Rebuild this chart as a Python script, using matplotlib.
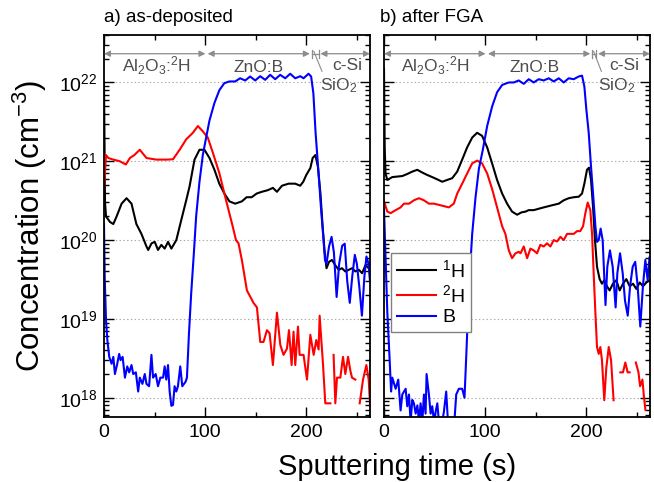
import numpy as np
import matplotlib
matplotlib.use("Agg")
import matplotlib.pyplot as plt
import matplotlib.ticker as mticker
import matplotlib.transforms as mtransforms

plt.rcParams['font.family'] = ['Liberation Sans', 'DejaVu Sans']
plt.rcParams['mathtext.fontset'] = 'custom'
plt.rcParams['mathtext.rm'] = 'Liberation Sans'
plt.rcParams['mathtext.it'] = 'Liberation Sans:italic'
plt.rcParams['mathtext.bf'] = 'Liberation Sans:bold'
plt.rcParams['mathtext.default'] = 'regular'

nan = np.nan

# ---------------- panel a) as-deposited ----------------
ta_H1 = [0, 1, 2, 5.9, 9.2, 12.5, 17.4, 22.3, 27.2, 32, 37, 42, 43.7, 47, 50.2,
         53.4, 56.7, 60, 63.3, 66.6, 71.5, 76.4, 81.3, 84.6, 89.5, 94.4, 99.3, 104.3, 109.2, 114,
         119, 124, 129.7, 136.3, 141, 146, 151, 156, 162, 167, 171, 176, 182.5, 189, 194,
         197, 200, 204, 206.3, 209, 211.5, 214, 216, 218, 220, 222.5, 225.4, 228.7, 232, 235.3,
         238.6, 242, 245.3, 248.6, 252, 255.2, 258.5, 261.8]
ca_H1 = [1.0e22, 3.0e20, 2.0e20, 1.7e20, 1.6e20, 2.0e20, 2.9e20, 3.4e20, 2.9e20, 1.6e20,
         1.2e20, 8.3e19, 7.5e19, 9.1e19, 9.5e19, 7.5e19, 8.7e19, 7.8e19, 9.5e19, 7.8e19,
         1.0e20, 1.8e20, 3.2e20, 4.8e20, 1.05e21, 1.4e21, 1.4e21, 1.1e21, 7.8e20, 5.2e20,
         3.9e20, 3.1e20, 2.9e20, 3.1e20, 3.5e20, 3.5e20, 3.9e20, 4.1e20, 4.3e20, 4.6e20,
         4.1e20, 4.9e20, 5.2e20, 5.2e20, 4.9e20, 5.5e20, 6.7e20, 8.2e20, 1.1e21, 1.2e21,
         8.5e20, 3.9e20, 1.6e20, 7.5e19, 4.4e19, 5.3e19, 5.6e19, 4.8e19, 4.2e19, 4.4e19,
         4.0e19, 4.2e19, 4.4e19, 4.0e19, 4.2e19, 3.8e19, 4.8e19, 4.4e19]

ta_H2 = [0, 2, 4.3, 9.2, 15.7, 21.6, 25.6, 30, 35.4, 42, 51.8, 61.6, 68.2, 74.8, 81.3,
         87.9, 92.8, 97.7, 102.6, 107.5, 114, 120.7, 127.2, 130.5, 133, 136.3, 141.3, 147.8,
         151.2, 154.5, 157.7, 161.1, 163.7, 167, 171, 174.3, 177.5, 180.9, 182.9, 185.5,
         187.4, 189.1, 191.8, 193.4, 197.3, 200.7, 204, 207.3, 209.9, 212.2, 213.2, 216.5,
         218.8, 223.8, 225, 227, 228.7, 230.4, 233.7, 236.3, 238.6, 241.3, 243.6, 245.2,
         248.5, 250, 252.8, 256.1, 259.4, 261.7, 263]
ca_H2 = [4.5e20, 1.2e21, 1.1e21, 1.05e21, 1.0e21, 9.1e20, 1.1e21, 1.2e21, 1.4e21, 1.1e21,
         1.05e21, 1.05e21, 1.06e21, 1.4e21, 1.9e21, 2.3e21, 2.8e21, 2.4e21, 2.0e21, 1.3e21,
         7.1e20, 3.2e20, 1.5e20, 1.0e20, 9.1e19, 5.6e19, 2.3e19, 1.6e19, 1.4e19, 5.1e18,
         5.1e18, 7.2e18, 6.6e18, 2.6e18, 1.2e19, 4.7e18, 3.5e18, 4.2e18, 7.2e18, 2.6e18,
         6.9e18, 2.6e18, 8.0e18, 3.5e18, 3.5e18, 1.7e18, 6.3e18, 3.5e18, 5.4e18, 4.1e18,
         1.1e19, 2.7e18, 8.5e17, 8.5e17, nan, 3.5e18, 8.5e17, 1.8e18, 1.8e18, 3.3e18,
         2.0e18, 3.3e18, 2.2e18, 1.8e18, 1.7e18, nan, 8.5e17, 1.7e18, 2.6e18, 1.7e18, 8.5e17]

ta_B = [0, 0.7, 2, 3.3, 5.2, 7.5, 9.2, 10.8, 13.1, 15, 16.4, 18.4, 20.7, 23, 24.9,
        27.2, 28.9, 31.5, 33.8, 35.4, 38, 40.3, 42, 44.6, 46.9, 48.5, 51.1, 53.4, 55.7, 58.4,
        60, 61.6, 63.3, 64.9, 66.6, 68.2, 69.8, 71.5, 73.1, 75.4, 77.4, 80.7, 82, 84, 86.2,
        88.9, 91.1, 94.4, 97.7, 101, 104.3, 109.2, 114.1, 119, 124, 129.7, 134.6, 139.6,
        144.5, 149.5, 154.4, 159.4, 164.3, 169.3, 174.2, 179.2, 184.1, 189.1, 194, 197.3,
        202.2, 204.8, 207, 209.2, 211.9, 214.5, 216.8, 218.5, 220, 222.5, 225, 227.3, 230,
        232.5, 235.5, 238, 240.5, 243, 245.5, 248, 250, 252.5, 255, 257.5, 259.5, 261.5, 263]
ca_B = [1.6e20, 3.4e19, 9.5e18, 5.4e18, 3.3e18, 2.7e18, 3.3e18, 2.0e18, 2.7e18, 3.6e18,
        3.0e18, 3.3e18, 1.8e18, 2.5e18, 2.1e18, 2.6e18, 2.0e18, 2.1e18, 1.2e18, 1.8e18,
        1.5e18, 2.0e18, 1.5e18, 1.4e18, 3.5e18, 1.8e18, 2.0e18, 1.4e18, 1.8e18, 1.8e18,
        2.5e18, 1.7e18, 2.6e18, 1.2e18, 7.9e17, 8.1e17, 1.4e18, 1.2e18, 1.4e18, 2.5e18,
        1.4e18, 1.6e18, 1.8e18, 6.5e18, 2.1e19, 7.0e19, 2.0e20, 5.5e20, 1.2e21, 2.0e21,
        3.3e21, 5.5e21, 8.0e21, 9.8e21, 1.03e22, 1.03e22, 1.13e22, 1.06e22, 1.19e22, 1.06e22,
        1.2e22, 1.08e22, 1.25e22, 1.1e22, 1.25e22, 1.13e22, 1.29e22, 1.13e22, 1.2e22, 1.13e22,
        1.29e22, 1.19e22, 7.3e21, 2.3e21, 7.8e20, 2.6e20, 1.1e20, 5.6e19, 5.0e19, 8.3e19,
        1.1e20, 7.0e19, 1.9e19, 5.0e19, 8.5e19, 9.0e19, 3.0e19, 1.6e19, 3.5e19, 6.5e19,
        5.0e19, 2.5e19, 1.1e19, 3.5e19, 6.2e19, 5.0e19, 3.0e19]

# ---------------- panel b) after FGA ----------------
tb_H1 = [0, 0.7, 1.5, 3.3, 8.2, 13.2, 18.1, 23, 28, 32.9, 37.8, 42.8, 47.7, 52.6, 57.6,
         62.5, 67.4, 72.4, 77.3, 82.2, 87.2, 92.1, 97, 102, 107, 111.8, 116.8, 121.7, 126.6,
         131.6, 136, 140, 143, 148, 153, 157.9, 162.9, 167.8, 172.8, 177.7, 182.6, 187.6,
         192.5, 195.8, 198.1, 200.7, 202.7, 204.7, 206.7, 208.6, 210.6, 213.2, 215.5, 217.8,
         220.4, 223.1, 226.4, 229.7, 233, 236.3, 239.6, 242.9, 246.2, 249.5, 252.8, 256.1,
         259.4, 262.5]
cb_H1 = [1.5e22, 1.5e21, 7.0e20, 5.8e20, 6.3e20, 6.4e20, 6.5e20, 6.9e20, 7.4e20, 7.8e20,
         7.2e20, 6.7e20, 6.3e20, 5.9e20, 5.5e20, 5.8e20, 6.1e20, 7.4e20, 1.05e21, 1.5e21,
         2.0e21, 2.3e21, 2.1e21, 1.5e21, 9.3e20, 5.8e20, 3.9e20, 2.9e20, 2.3e20, 2.1e20,
         2.25e20, 2.3e20, 2.4e20, 2.4e20, 2.5e20, 2.6e20, 2.7e20, 2.8e20, 2.9e20, 3.2e20,
         3.4e20, 3.5e20, 3.55e20, 3.9e20, 5.2e20, 7.8e20, 8.3e20, 5.8e20, 2.6e20, 1.0e20,
         4.6e19, 3.2e19, 2.8e19, 3.1e19, 2.6e19, 2.3e19, 2.8e19, 3.1e19, 2.3e19, 2.8e19,
         3.2e19, 2.6e19, 2.8e19, 2.4e19, 2.9e19, 2.6e19, 2.9e19, 3.1e19]

tb_H2 = [0, 3.3, 6.6, 11.5, 16.4, 19.7, 24.7, 29.6, 34.5, 39.5, 44.4, 49.3, 54.3, 59.2,
         64.1, 69, 72.4, 77.3, 82.2, 87.2, 92.1, 97, 102, 107, 111.8, 116.8, 120, 123.4,
         126.6, 130, 133.2, 135, 138.2, 141.5, 144.8, 148, 151.3, 154.6, 157.9, 161.2, 164.5,
         167.8, 171.1, 174.4, 177.7, 181, 184.3, 187.6, 190.9, 194, 196.8, 199.1, 201.4, 204,
         205.7, 207.3, 209, 210.6, 212.3, 213.9, 215.5, 217.8, 219.8, 222.2, 224.5, 227, 229,
         233.7, 236.3, 238.6, 240.9, 242.9, 245, 249, 251.6, 253.2, 255.5, 257.1, 258.5]
cb_H2 = [3.1e20, 2.3e20, 2.2e20, 2.4e20, 2.6e20, 2.9e20, 2.9e20, 3.2e20, 3.4e20, 3.2e20,
         2.9e20, 2.9e20, 2.8e20, 2.7e20, 2.6e20, 2.9e20, 3.9e20, 5.2e20, 7.0e20, 9.4e20,
         1.02e21, 9.4e20, 7.0e20, 4.4e20, 2.6e20, 1.5e20, 1.2e20, 7.4e19, 5.9e19, 6.8e19,
         7.1e19, 6.8e19, 8.3e19, 5.9e19, 7.8e19, 7.4e19, 6.8e19, 8.7e19, 8.3e19, 9.1e19,
         8.3e19, 1.0e20, 9.6e19, 1.1e20, 1.0e20, 1.2e20, 1.2e20, 1.2e20, 1.3e20, 1.3e20,
         1.5e20, 2.2e20, 3.0e20, 2.4e20, 1.2e20, 3.8e19, 1.2e19, 4.4e18, 3.6e18, 4.4e18,
         3.0e18, 9.3e17, 2.4e18, 4.4e18, 3.0e18, 9.3e17, nan, 2.1e18, 2.1e18, 2.8e18,
         2.1e18, 2.1e18, nan, 2.8e18, 2.1e18, 1.4e18, 1.7e18, 1.0e18, 7.0e17]

tb_B = [0, 1.6, 3.3, 5.6, 7.0, 8.2, 11.5, 14.1, 16.4, 18.1, 21.4, 23, 24.7, 26.3, 28,
        29.6, 31.3, 33, 34.6, 36.2, 37.9, 39.5, 41.1, 42.1, 44.4, 46.1, 47.7, 49.4, 51,
        52.7, 54.3, 57.6, 59.2, 61.5, 63.2, 65.8, 69.1, 71.4, 74, 77.3, 79.6, 81.6, 84,
        87.2, 90.5, 93.8, 97.7, 102, 107, 111.8, 116.8, 123.4, 128.3, 133.2, 138.2, 143.1,
        148, 153, 157.9, 162.9, 167.8, 172.8, 177.7, 182.6, 187.6, 192.5, 195.8, 198.1,
        200.1, 202.4, 204.7, 206.7, 209, 210.6, 212.3, 214.2, 216.2, 219, 220.8, 223.4,
        226.1, 229, 230.7, 233.4, 236, 238.3, 241, 243.3, 245.9, 248.4, 250.8, 253.4, 256,
        258.4, 260.7, 262.5]
cb_B = [2.5e20, 5.6e19, 1.2e19, 3.0e18, 1.2e18, 1.8e18, 1.3e18, 1.7e18, 6.9e17, 1.1e18,
        1.3e18, 7.8e17, 1.1e18, 5.0e17, 9.4e17, 8.5e17, 6.3e17, 8.0e17, 5.0e17, 8.5e17,
        5.0e17, 1.1e18, 6.3e17, 2.0e18, 1.1e18, 6.3e17, 7.8e17, 5.0e17, 6.6e17, 8.5e17,
        5.0e17, 5.0e17, 6.6e17, 1.2e18, 5.0e17, 4.0e17, 4.0e17, 1.1e18, 1.3e18, 1.3e18,
        1.0e18, 4.1e18, 2.5e19, 1.2e20, 3.5e20, 8.0e20, 1.4e21, 2.8e21, 5.0e21, 7.5e21,
        9.3e21, 1.0e22, 1.0e22, 1.06e22, 9.6e21, 1.1e22, 1.0e22, 1.1e22, 1.06e22, 1.13e22,
        1.03e22, 1.13e22, 1.0e22, 1.13e22, 1.1e22, 1.19e22, 1.22e22, 8.9e21, 4.5e21, 2.3e21,
        8.5e20, 3.9e20, 1.5e20, 9.5e19, 1.0e20, 1.4e20, 1.0e20, 1.5e19, 4.6e19, 7.4e19,
        4.6e19, 1.4e19, 3.8e19, 6.8e19, 3.8e19, 1.7e19, 1.1e19, 2.6e19, 4.6e19, 5.3e19,
        2.6e19, 8.0e18, 2.6e19, 5.6e19, 3.1e19, 6.0e19]

series_labels = ['$^1$H', '$^2$H', 'B']
series_colors = ['black', '#ff0000', '#0000ff']
panel_titles = ['a) as-deposited', 'b) after FGA']
layer_labels = ['Al$_2$O$_3$:$^2$H', 'ZnO:B', 'c-Si', 'SiO$_2$']

W, H = 654, 482
fig = plt.figure(figsize=(W / 100, H / 100), dpi=100)
axL = fig.add_axes([104 / W, 1 - 417 / H, 266 / W, 382 / H])
axR = fig.add_axes([384 / W, 1 - 417 / H, 266 / W, 382 / H])

data = [
    [(ta_H1, ca_H1), (ta_H2, ca_H2), (ta_B, ca_B)],
    [(tb_H1, cb_H1), (tb_H2, cb_H2), (tb_B, cb_B)],
]

layers = [
    dict(al=(0, 100.3), zn=(102.5, 203.5), marks=(205.6, 212.2), csi=(214, 263),
         lab_al=17.5, lab_zn=152.5, lab_csi=225.4, lab_sio=213.2, ptr=(207.5, 215.5)),
    dict(al=(0, 100.4), zn=(102.8, 204), marks=(205.2, 209.8), csi=(211.6, 263),
         lab_al=16.5, lab_zn=148.5, lab_csi=222.8, lab_sio=211.6, ptr=(207.3, 214.9)),
]

gray_arrow = '#8c8c8c'
gray_text = '#4d4d4d'
y_arr = 0.951

for i, ax in enumerate([axL, axR]):
    for (t, c), col, lab in zip(data[i], series_colors, series_labels):
        ax.plot(t, c, color=col, lw=1.5, label=lab)
    ax.set_yscale('log')
    ax.set_xlim(0, 263)
    ax.set_ylim(5.7e17, 4.0e22)
    ax.xaxis.set_major_locator(mticker.FixedLocator([0, 100, 200]))
    ax.xaxis.set_minor_locator(mticker.FixedLocator([50, 150, 250]))
    ax.yaxis.set_major_locator(mticker.LogLocator(base=10, numticks=10))
    ax.yaxis.set_minor_locator(mticker.LogLocator(base=10, subs=np.arange(2, 10), numticks=20))
    ax.yaxis.set_minor_formatter(mticker.NullFormatter())
    ax.tick_params(which='both', direction='in', top=True, right=True, width=1.0,
                   labelsize=14, pad=5)
    ax.tick_params(which='major', length=7)
    ax.tick_params(which='minor', length=3.5)
    ax.yaxis.grid(True, which='major', linestyle=(0, (1.2, 2.2)), color='#a8a8a8', lw=0.8)
    ax.set_axisbelow(True)
    for sp in ax.spines.values():
        sp.set_linewidth(1.3)
    if i == 1:
        ax.tick_params(labelleft=False)

    L = layers[i]
    tr = mtransforms.blended_transform_factory(ax.transData, ax.transAxes)
    aprops = dict(arrowstyle='<|-|>', color=gray_arrow, lw=0.9, mutation_scale=9,
                  shrinkA=0, shrinkB=0)
    for seg in (L['al'], L['zn'], L['csi']):
        ax.annotate('', xy=(seg[1], y_arr), xytext=(seg[0], y_arr), xycoords=tr,
                    textcoords=tr, arrowprops=aprops, annotation_clip=False)
    for m in L['marks']:
        ax.plot([m, m], [y_arr - 0.01, y_arr + 0.01], color=gray_arrow, lw=0.9,
                transform=tr, clip_on=False)
    ax.plot(L['marks'], [y_arr, y_arr], color=gray_arrow, lw=0.9, transform=tr, clip_on=False)
    ax.plot(L['ptr'], [0.957, 0.905], color=gray_arrow, lw=0.8, transform=tr, clip_on=False)
    ax.text(L['lab_al'], 0.904, layer_labels[0], transform=tr, fontsize=12.5,
            color=gray_text, ha='left', va='baseline')
    ax.text(L['lab_zn'], 0.904, layer_labels[1], transform=tr, fontsize=12.5,
            color=gray_text, ha='center', va='baseline')
    ax.text(L['lab_csi'], 0.908, layer_labels[2], transform=tr, fontsize=12.5,
            color=gray_text, ha='left', va='baseline')
    ax.text(L['lab_sio'], 0.855, layer_labels[3], transform=tr, fontsize=12.5,
            color=gray_text, ha='left', va='baseline')

leg = axR.legend(loc='lower left', bbox_to_anchor=(0.026, 0.222), borderaxespad=0,
                 fontsize=14, handlelength=2.0, handletextpad=0.35, borderpad=0.3,
                 labelspacing=0.15, fancybox=False, framealpha=1, edgecolor='#808080')
leg.get_frame().set_linewidth(1.0)

fig.text(104 / W, 1 - 18 / H, panel_titles[0], fontsize=13.5, ha='left', va='center')
fig.text(380 / W, 1 - 18 / H, panel_titles[1], fontsize=13.5, ha='left', va='center')
fig.text(397 / W, 1 - 467 / H, 'Sputtering time (s)', fontsize=21, ha='center', va='center')
fig.text(30 / W, 1 - 226 / H, 'Concentration (cm$^{-3}$)', fontsize=22.5, ha='center',
         va='center', rotation=90)

fig.savefig('out.png', dpi=100)
